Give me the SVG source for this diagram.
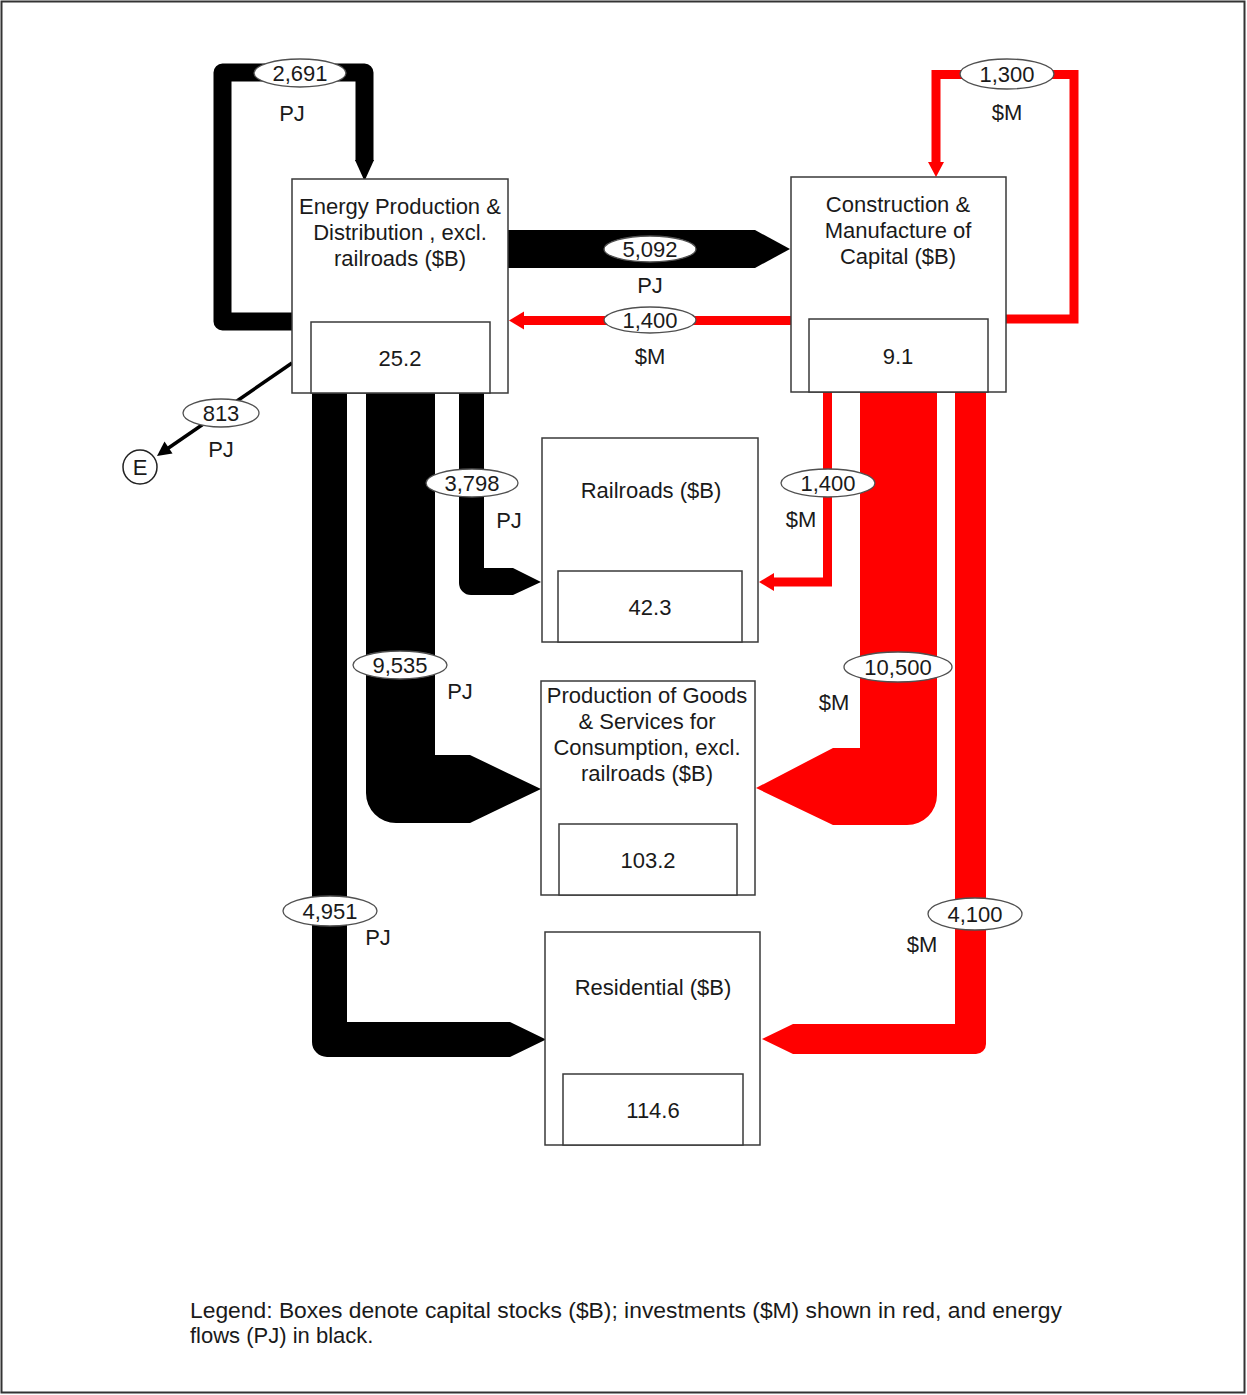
<svg xmlns="http://www.w3.org/2000/svg" width="1247" height="1395" viewBox="0 0 1247 1395">
<style>
text{font-family:"Liberation Sans",Arial,sans-serif;font-size:22px;fill:#1a1a1a;text-anchor:middle}
.box{fill:#fff;stroke:#3a3a3a;stroke-width:1.5}
.blk{fill:#000}
.red{fill:#ff0000}
.rl{fill:none;stroke:#ff0000;stroke-width:9}
.bl{fill:none;stroke:#000}
.lab{fill:#fff;stroke:#505050;stroke-width:1.3}
.legend{text-anchor:start}
</style>
<rect x="1.5" y="1.5" width="1243" height="1391" fill="#fff" stroke="#333" stroke-width="2"/>

<g id="connectors">
  <!-- 2,691 PJ self loop -->
  <path class="bl" d="M292,321.5 H222.5 V72.5 H364.5 V161" stroke-width="18" stroke-linejoin="round"/>
  <polygon class="blk" points="355,160 374,160 364.5,181"/>
  <!-- 5,092 PJ Energy -> Construction -->
  <polygon class="blk" points="508,230 755,230 790,249 755,268 508,268"/>
  <!-- 1,400 $M Construction -> Energy -->
  <path class="rl" d="M791,320.5 H522"/>
  <polygon class="red" points="524,311.5 509,320.5 524,329.5"/>
  <!-- 1,300 $M self loop -->
  <path class="rl" d="M1006,319 H1074 V74.5 H936 V164"/>
  <polygon class="red" points="928,162 944,162 936,177"/>
  <!-- 813 PJ to E -->
  <line x1="292" y1="363" x2="167" y2="449" stroke="#000" stroke-width="3.5"/>
  <polygon class="blk" points="157,456 172.5,453.5 164.5,441.5"/>
  <!-- 3,798 PJ Energy -> Railroads -->
  <path class="blk" d="M459,393 H484 V568 H513 L541,582 L513,595 H471 A12,12 0 0 1 459,583 Z"/>
  <!-- 9,535 PJ Energy -> Production -->
  <path class="blk" d="M366,393 H435 V755 H470 L541,789 L470,823 H396 A30,30 0 0 1 366,793 Z"/>
  <!-- 4,951 PJ Energy -> Residential -->
  <path class="blk" d="M312,393 H347 V1022 H510 L546,1039.5 L510,1057 H327 A15,15 0 0 1 312,1042 Z"/>
  <!-- 1,400 $M Construction -> Railroads -->
  <path class="rl" d="M827.5,392 V582 H772"/>
  <polygon class="red" points="774,573 759,582 774,591"/>
  <!-- 10,500 $M Construction -> Production -->
  <path class="red" d="M860,392 H937 V795 A30,30 0 0 1 907,825 H833 L756,788 L833,748 H860 Z"/>
  <!-- 4,100 $M Construction -> Residential -->
  <path class="red" d="M955,392 H986 V1044 A10,10 0 0 1 976,1054 H793 L762,1039 L793,1024 H955 Z"/>

  <!-- flow labels -->
  <ellipse class="lab" cx="300" cy="73" rx="46" ry="14"/><text x="300" y="81">2,691</text><text x="292" y="121">PJ</text>
  <ellipse class="lab" cx="650" cy="249" rx="46" ry="13"/><text x="650" y="257">5,092</text><text x="650" y="293">PJ</text>
  <ellipse class="lab" cx="650" cy="320" rx="46" ry="13"/><text x="650" y="328">1,400</text><text x="650" y="364">$M</text>
  <ellipse class="lab" cx="1007" cy="74" rx="47" ry="15"/><text x="1007" y="82">1,300</text><text x="1007" y="120">$M</text>
  <ellipse class="lab" cx="221" cy="413" rx="38" ry="14"/><text x="221" y="421">813</text><text x="221" y="457">PJ</text>
  <ellipse class="lab" cx="472" cy="483" rx="46" ry="14"/><text x="472" y="491">3,798</text><text x="509" y="528">PJ</text>
  <ellipse class="lab" cx="828" cy="483" rx="47" ry="14"/><text x="828" y="491">1,400</text><text x="801" y="527">$M</text>
  <ellipse class="lab" cx="400" cy="665" rx="47" ry="14"/><text x="400" y="673">9,535</text><text x="460" y="699">PJ</text>
  <ellipse class="lab" cx="898" cy="667" rx="54" ry="15"/><text x="898" y="675">10,500</text><text x="834" y="710">$M</text>
  <ellipse class="lab" cx="330" cy="911" rx="47" ry="15"/><text x="330" y="919">4,951</text><text x="378" y="945">PJ</text>
  <ellipse class="lab" cx="975" cy="914" rx="47" ry="16"/><text x="975" y="922">4,100</text><text x="922" y="952">$M</text>
</g>

<g id="node-energy">
  <rect class="box" x="292" y="179" width="216" height="214"/>
  <rect class="box" x="311" y="322" width="179" height="71"/>
  <text x="400" y="214">Energy Production &amp;</text>
  <text x="400" y="240">Distribution , excl.</text>
  <text x="400" y="266">railroads ($B)</text>
  <text x="400" y="366">25.2</text>
</g>

<g id="node-construction">
  <rect class="box" x="791" y="177" width="215" height="215"/>
  <rect class="box" x="809" y="319" width="179" height="73"/>
  <text x="898" y="212">Construction &amp;</text>
  <text x="898" y="238">Manufacture of</text>
  <text x="898" y="264">Capital ($B)</text>
  <text x="898" y="364">9.1</text>
</g>

<g id="node-railroads">
  <rect class="box" x="542" y="438" width="216" height="204"/>
  <rect class="box" x="558" y="571" width="184" height="71"/>
  <text x="651" y="498">Railroads ($B)</text>
  <text x="650" y="615">42.3</text>
</g>

<g id="node-production">
  <rect class="box" x="541" y="681" width="214" height="214"/>
  <rect class="box" x="559" y="824" width="178" height="71"/>
  <text x="647" y="703">Production of Goods</text>
  <text x="647" y="729">&amp; Services for</text>
  <text x="647" y="755">Consumption, excl.</text>
  <text x="647" y="781">railroads ($B)</text>
  <text x="648" y="868">103.2</text>
</g>

<g id="node-residential">
  <rect class="box" x="545" y="932" width="215" height="213"/>
  <rect class="box" x="563" y="1074" width="180" height="71"/>
  <text x="653" y="995">Residential ($B)</text>
  <text x="653" y="1118">114.6</text>
</g>

<g id="node-E">
  <circle cx="140" cy="467" r="17" fill="#fff" stroke="#222" stroke-width="1.5"/>
  <text x="140" y="475">E</text>
</g>

<g id="legend">
  <text class="legend" x="190" y="1318" textLength="872" lengthAdjust="spacingAndGlyphs">Legend:  Boxes denote capital stocks ($B); investments ($M) shown in red, and energy</text>
  <text class="legend" x="190" y="1343">flows (PJ) in black.</text>
</g>
</svg>
